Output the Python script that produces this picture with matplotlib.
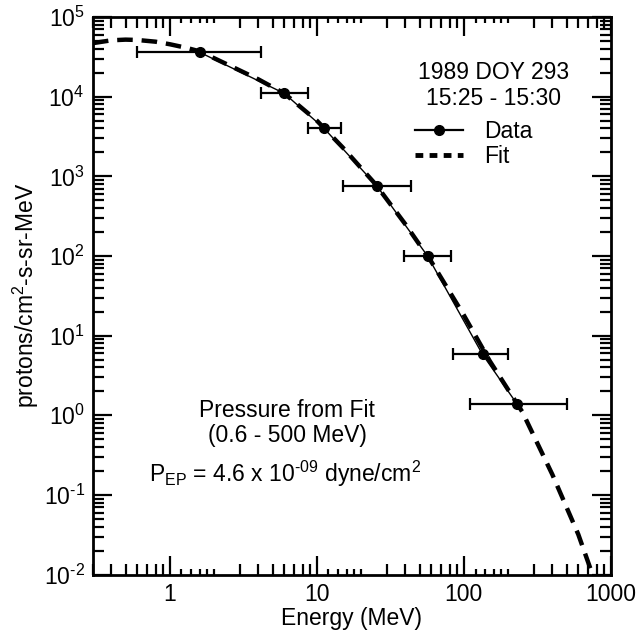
import numpy as np
import matplotlib
matplotlib.use('Agg')
import matplotlib.pyplot as plt
from matplotlib.ticker import LogLocator, FixedLocator, NullFormatter
from matplotlib.lines import Line2D

plt.rcParams['font.family'] = ['Liberation Sans', 'DejaVu Sans']
plt.rcParams['mathtext.fontset'] = 'custom'
plt.rcParams['mathtext.rm'] = 'Liberation Sans'
plt.rcParams['mathtext.it'] = 'Liberation Sans'
plt.rcParams['axes.unicode_minus'] = False

# Data points (GOES channels)
energy = [1.6, 6.0, 11.2, 25.7, 56.6, 134, 229]
e_low = [0.6, 4.2, 8.7, 15.0, 39.0, 84.0, 110.0]
e_high = [4.2, 8.7, 14.5, 44.0, 82.0, 200.0, 500.0]
flux = [3.6e4, 1.1e4, 4.0e3, 7.5e2, 1.0e2, 5.8, 1.4]

# Fit curve
fit_energy = [0.3, 0.4, 0.5, 0.6, 0.8, 1.0, 1.3, 1.6, 2.5, 4.0, 6.0, 10, 15, 25,
              40, 60, 100, 150, 250, 400, 600, 750, 850]
fit_flux = [4.7e4, 5.1e4, 5.2e4, 5.15e4, 4.9e4, 4.55e4, 4.1e4, 3.7e4, 2.5e4, 1.65e4,
            1.1e4, 5.0e3, 2.3e3, 8.0e2, 2.5e2, 8.5e1, 1.8e1, 4.8, 1.1, 1.8e-1,
            3.2e-2, 1.0e-2, 5.0e-3]

x_ticks = [1, 10, 100, 1000]
x_labels = ['1', '10', '100', '1000']
y_ticks = [1e-2, 1e-1, 1e0, 1e1, 1e2, 1e3, 1e4, 1e5]
y_labels = ['$\\mathdefault{10^{\u20102}}$', '$\\mathdefault{10^{\u20101}}$',
            '$\\mathdefault{10^{0}}$', '$\\mathdefault{10^{1}}$', '$\\mathdefault{10^{2}}$',
            '$\\mathdefault{10^{3}}$', '$\\mathdefault{10^{4}}$', '$\\mathdefault{10^{5}}$']

xerr = [np.array(energy) - np.array(e_low), np.array(e_high) - np.array(energy)]

fig = plt.figure(figsize=(6.39, 6.42), dpi=100)
ax = fig.add_axes([0.1455, 0.105, 0.8105, 0.8685])

ax.errorbar(energy, flux, xerr=xerr, fmt='o-', color='black', ms=7, lw=1.0,
            elinewidth=1.6, capsize=4, capthick=1.6, zorder=2)
ax.plot(fit_energy, fit_flux, color='black', lw=3.2, dashes=(3.5, 2.0), zorder=3)

ax.set_xscale('log')
ax.set_yscale('log')
ax.set_xlim(0.3, 1000)
ax.set_ylim(1e-2, 1e5)

ax.set_xticks(x_ticks, x_labels)
ax.set_yticks(y_ticks, y_labels)

# IDL-like x minor ticks: short ones just above each decade, longer ones from 3 to 9
short_minor = [round(m * 10.0**k, 4) for k in range(0, 3) for m in (1.2, 1.4, 1.6, 1.8, 2.0)]
long_minor = [round(m * 10.0**k, 4) for k in range(-1, 3) for m in range(3, 10)]
x_minor = sorted(short_minor + long_minor)
ax.xaxis.set_minor_locator(FixedLocator(x_minor))
ax.xaxis.set_minor_formatter(NullFormatter())
ax.yaxis.set_minor_locator(LogLocator(base=10, subs=np.arange(2, 10), numticks=20))
ax.yaxis.set_minor_formatter(NullFormatter())

ax.tick_params(which='both', direction='in', top=True, right=True, labelsize=16.5, width=1.6)
ax.tick_params(which='major', length=14, pad=6)
ax.tick_params(which='minor', length=8)
for tick, loc in zip(ax.xaxis.get_minor_ticks(len(x_minor)), x_minor):
    if loc in short_minor:
        tick.tick1line.set_markersize(4)
        tick.tick2line.set_markersize(4)
for s in ax.spines.values():
    s.set_linewidth(2)

ax.set_xlabel('Energy (MeV)', fontsize=16.5, labelpad=1)
ax.set_ylabel('protons/cm$^2$-s-sr-MeV', fontsize=16.5, labelpad=2)

ax.text(0.774, 0.900, '1989 DOY 293', transform=ax.transAxes, ha='center', va='center', fontsize=16.5)
ax.text(0.774, 0.854, '15:25 - 15:30', transform=ax.transAxes, ha='center', va='center', fontsize=16.5)
handles = [Line2D([], [], color='black', marker='o', ms=7, lw=1.6),
           Line2D([], [], color='black', lw=3.5, dashes=(1.6, 1.3))]
ax.legend(handles, ['Data', 'Fit'], loc='upper left', bbox_to_anchor=(0.60, 0.835),
          frameon=False, fontsize=16.5, handlelength=2.1, handletextpad=0.9,
          labelspacing=0.05, borderpad=0)

ax.text(0.375, 0.295, 'Pressure from Fit', transform=ax.transAxes, ha='center', va='center', fontsize=16.5)
ax.text(0.375, 0.249, '(0.6 - 500 MeV)', transform=ax.transAxes, ha='center', va='center', fontsize=16.5)
ax.text(0.37, 0.181, 'P$_{\\mathrm{EP}}$ = 4.6 x 10$^{\\mathrm{\u2010}09}$ dyne/cm$^2$',
        transform=ax.transAxes, ha='center', va='center', fontsize=16.5)

fig.savefig('out.png', dpi=100)
